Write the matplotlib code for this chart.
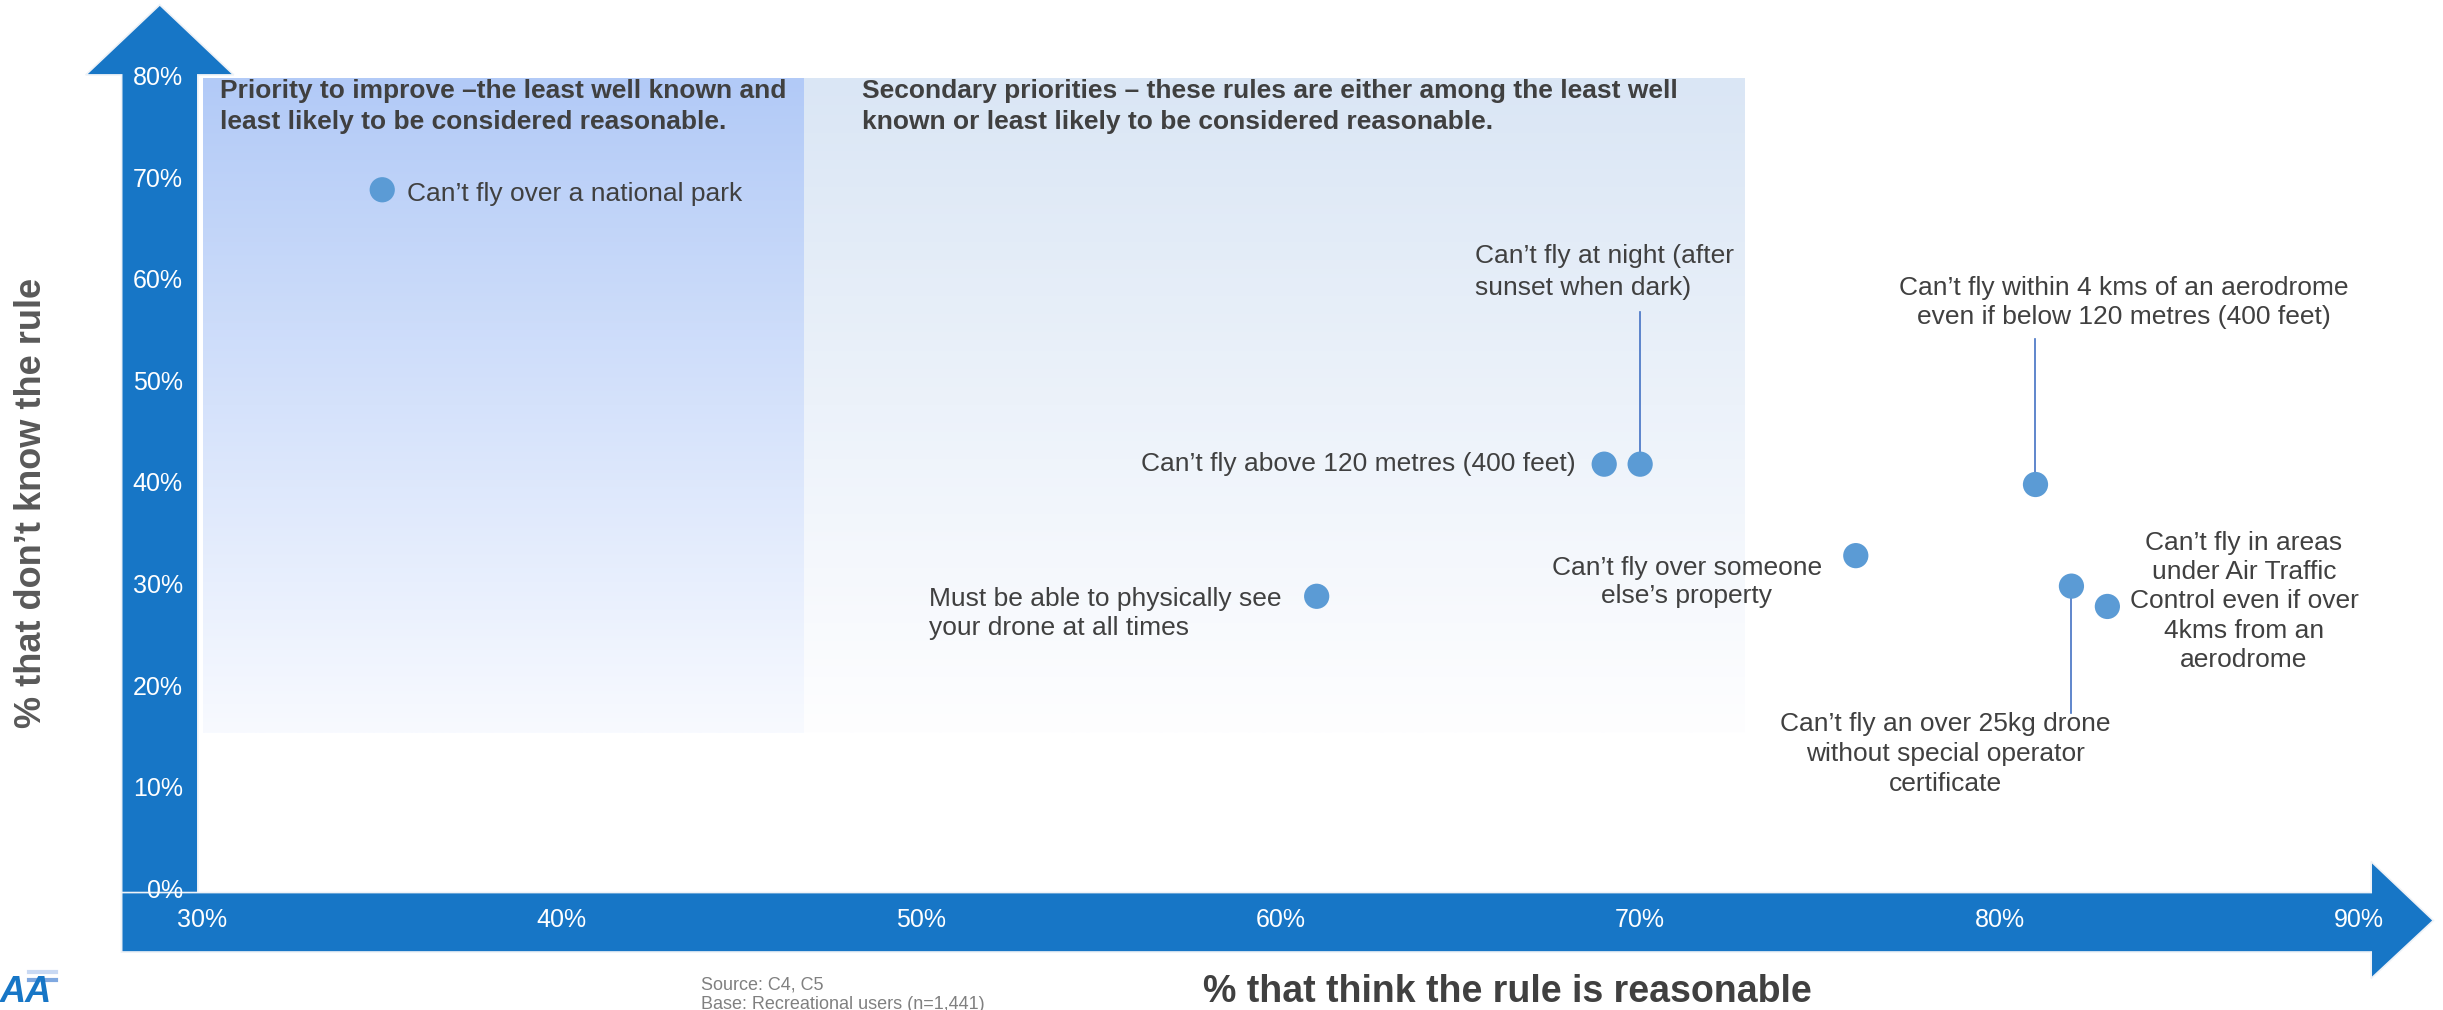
import numpy as np
import matplotlib.pyplot as plt
from matplotlib.patches import Polygon

plt.rcParams['font.family'] = ['Liberation Sans', 'DejaVu Sans']

# data: % that think the rule is reasonable (x), % that don't know the rule (y)
rules = [
    'Can’t fly over a national park',
    'Can’t fly above 120 metres (400 feet)',
    'Can’t fly at night (after\nsunset when dark)',
    'Must be able to physically see\nyour drone at all times',
    'Can’t fly over someone\nelse’s property',
    'Can’t fly within 4 kms of an aerodrome\neven if below 120 metres (400 feet)',
    'Can’t fly an over 25kg drone\nwithout special operator\ncertificate',
    'Can’t fly in areas\nunder Air Traffic\nControl even if over\n4kms from an\naerodrome',
]
reasonable = [35, 69, 70, 61, 76, 81, 82, 83]
dont_know = [69, 42, 42, 29, 33, 40, 30, 28]

x_ticks = [30, 40, 50, 60, 70, 80, 90]
y_ticks = [0, 10, 20, 30, 40, 50, 60, 70, 80]

# label layout: (x, y, ha, linespacing)
label_pos = [
    (35.7, 68.6, 'left', 1.3),
    (68.2, 42.0, 'right', 1.3),
    (65.4, 60.9, 'left', 1.45),
    (50.2, 27.3, 'left', 1.3),
    (71.3, 30.4, 'center', 1.25),
    (83.45, 57.9, 'center', 1.3),
    (78.5, 13.5, 'center', 1.3),
    (86.8, 28.5, 'center', 1.28),
]
# leader lines: index of rule -> end y of line
leaders = {2: 57.0, 5: 54.3, 6: 17.5}

BLUE = '#1776c6'
TXT = '#404040'

fig = plt.figure(figsize=(24.43, 10.10), dpi=100)
ax = fig.add_axes([0.0829, 0.1178, 0.8827, 0.805])
ax.axis('off')


def gradient(ax, x0, x1, y0, y1, top, bottom):
    top = np.array(plt.matplotlib.colors.to_rgb(top))
    bottom = np.array(plt.matplotlib.colors.to_rgb(bottom))
    t = np.linspace(0, 1, 256)[:, None, None]
    img = top * (1 - t) + bottom * t
    ax.imshow(img, extent=(x0, x1, y0, y1), aspect='auto', zorder=0,
              interpolation='bilinear')


# quadrant shading
gradient(ax, 46.7, 72.9, 15.5, 80, '#dae6f5', '#fefeff')
gradient(ax, 29.9, 46.7, 15.5, 80, '#b2caf7', '#f8faff')
ax.set_xlim(30, 90)
ax.set_ylim(0, 80)

# axis arrows
y_arrow = [(27.75, -6.0), (29.87, -6.0), (29.87, 80.3), (30.87, 80.3),
           (28.81, 87.2), (26.75, 80.3), (27.75, 80.3)]
x_arrow = [(27.75, -0.15), (90.34, -0.15), (90.34, 2.9), (92.07, -2.9),
           (90.34, -8.6), (90.34, -6.0), (27.75, -6.0)]
for pts in (y_arrow, x_arrow):
    ax.add_patch(Polygon(pts, closed=True, facecolor=BLUE, edgecolor='#eef2f7',
                         lw=1.2, clip_on=False, zorder=2))

for t in y_ticks:
    ax.text(29.45, t, f'{t}%', color='white', fontsize=18, ha='right',
            va='center', zorder=3, clip_on=False)
for t in x_ticks:
    ax.text(t, -2.9, f'{t}%', color='white', fontsize=18, ha='center',
            va='center', zorder=3, clip_on=False)

# leader lines
for i, yend in leaders.items():
    ax.plot([reasonable[i], reasonable[i]], [dont_know[i], yend],
            color='#4472c4', lw=1.2, zorder=3)

ax.scatter(reasonable, dont_know, s=330, color='#5b9bd5', zorder=4,
           edgecolors='none')

for name, (lx, ly, ha, ls) in zip(rules, label_pos):
    ax.text(lx, ly, name, fontsize=19, color=TXT, ha=ha, va='center',
            multialignment=ha, linespacing=ls, zorder=5)

ax.text(30.48, 79.9, 'Priority to improve –the least well known and\n'
        'least likely to be considered reasonable.', fontsize=19,
        fontweight='bold', color=TXT, ha='left', va='top', linespacing=1.35)
ax.text(48.34, 79.9, 'Secondary priorities – these rules are either among the least well\n'
        'known or least likely to be considered reasonable.', fontsize=19,
        fontweight='bold', color=TXT, ha='left', va='top', linespacing=1.35)

fig.text(0.617, 0.018, '% that think the rule is reasonable', fontsize=27,
         fontweight='bold', color=TXT, ha='center', va='center')
fig.text(0.0127, 0.502, '% that don’t know the rule', fontsize=26,
         fontweight='bold', color='#595959', ha='center', va='center',
         rotation=90)

fig.text(0.287, 0.025, 'Source: C4, C5', fontsize=13, color='#808080',
         ha='left', va='center')
fig.text(0.287, 0.005, 'Base: Recreational users (n=1,441)', fontsize=13,
         color='#808080', ha='left', va='center')

# logo
fig.text(0.0, 0.0, 'AA', fontsize=26, fontweight='bold', style='italic',
         color=BLUE, ha='left', va='bottom')
for dy, c in ((0.038, '#c9d9f3'), (0.030, '#7fa8e0')):
    fig.add_artist(plt.Line2D([0.012, 0.023], [dy, dy], color=c, lw=3))

fig.savefig('out.png', dpi=100)
